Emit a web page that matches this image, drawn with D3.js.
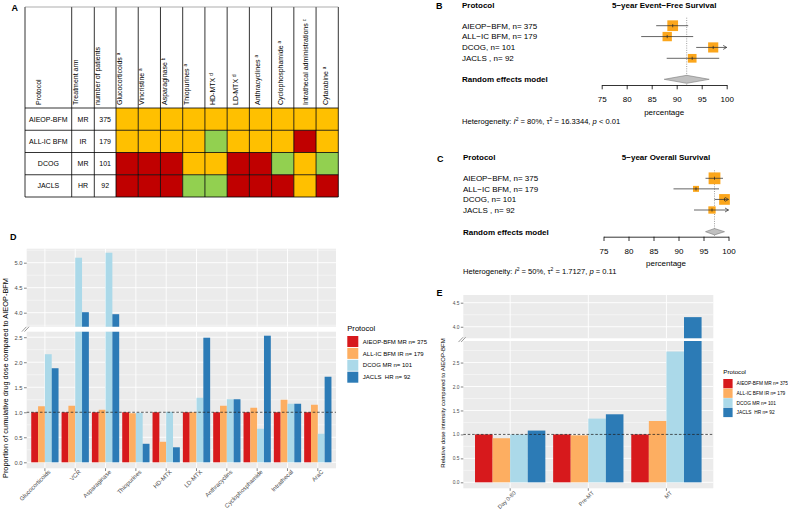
<!DOCTYPE html>
<html><head><meta charset="utf-8">
<script src="https://cdn.jsdelivr.net/npm/d3@7"></script>
<style>
body{margin:0;background:#fff}
svg{display:block}
text{font-family:"Liberation Sans",Arial,Helvetica,sans-serif;white-space:pre}
</style>
</head><body>
<svg id="c" width="788" height="509"></svg>
<script>
// ---------------- DATA ----------------
// Panel A table
const tableProtocols = ["AIEOP-BFM", "ALL-IC BFM", "DCOG", "JACLS"];
const tableArms = ["MR", "IR", "MR", "HR"];
const tablePatients = [375, 179, 101, 92];
const fixedHeaders = ["Protocol", "Treatment arm", "number of patients"];
const drugHeaders = ["Glucocorticoids", "Vincristine", "Asparaginase", "Thiopurines", "HD-MTX", "LD-MTX", "Anthracyclines", "Cyclophosphamide", "Intrathecal administrations", "Cytarabine"];
const drugSup = ["a", "a", "b", "a", "d", "d", "a", "a", "c", "a"];
// O = orange, R = red, G = green
const drugGrid = [
  ["O","O","O","O","O","O","O","O","O","O"],
  ["O","O","O","O","G","O","O","O","R","O"],
  ["R","R","R","O","O","R","R","G","O","G"],
  ["R","R","R","G","G","R","R","R","O","R"]
];

// Panels B & C forest plots
const forestStudies = ["AIEOP\u2212BFM, n= 375", "ALL\u2212IC BFM, n= 179", "DCOG, n= 101", "JACLS , n= 92"];
const forestTicks = [75, 80, 85, 90, 95, 100];
const efsEst = [89.2, 88.1, 97.3, 93.1];
const efsLo = [85.9, 82.9, 93.9, 88.0];
const efsHi = [92.3, 93.3, 100.8, 98.5];
const efsWeight = [29, 22, 26, 19];
const efsPooled = [92.0, 87.5, 96.5];
const osEst = [97.2, 93.5, 99.2, 96.7];
const osLo = [95.4, 89.0, 97.2, 93.1];
const osHi = [98.9, 98.1, 101.0, 101.0];
const osWeight = [35, 9, 29, 13.5];
const osPooled = [97.2, 95.4, 99.2];

// Panel D
const seriesNames = ["AIEOP-BFM MR n= 375", "ALL-IC BFM IR n= 179", "DCOG MR n= 101", "JACLS  HR n= 92"];
const dCategories = ["Glucocorticoids", "VCR", "Asparaginase", "Thiopurines", "HD-MTX", "LD-MTX", "Anthracyclins", "Cyclophosphamide", "Intrathecal", "AraC"];
const dAIEOP = [1, 1, 1, 1, 1, 1, 1, 1, 1, 1];
const dALLIC = [1.12, 1.13, 1.05, 0.98, 0.41, 1.00, 1.13, 1.09, 1.25, 1.15];
const dDCOG  = [2.16, 5.10, 5.20, 0.99, 1.01, 1.29, 1.26, 0.67, 1.17, 0.57];
const dJACLS = [1.88, 4.01, 3.97, 0.37, 0.30, 2.49, 1.26, 2.53, 1.17, 1.71];
const dLowerTicks = [0, 0.5, 1.0, 1.5, 2.0, 2.5];
const dUpperTicks = [4.0, 4.5, 5.0];

// Panel E
const eCategories = ["Day 0-80", "Pre-MT", "MT"];
const eAIEOP = [1, 1, 1];
const eALLIC = [0.92, 0.98, 1.28];
const eDCOG  = [1.00, 1.33, 2.73];
const eJACLS = [1.08, 1.42, 4.20];
const eLowerTicks = [0, 0.5, 1.0, 1.5, 2.0, 2.5];
const eUpperTicks = [4.0, 4.5];

// ---------------- DRAW ----------------
const svg = d3.select("#c");
svg.append("rect").attr("width", 788).attr("height", 509).attr("fill", "#fff");

function panelLabel(t, x, y) {
  svg.append("text").attr("x", x).attr("y", y).attr("font-size", 9).attr("font-weight", "bold").text(t);
}

// ===== Panel A =====
(function () {
  const g = svg.append("g");
  const fill = d3.scaleOrdinal().domain(["O", "R", "G"]).range(["#FFC000", "#C00000", "#92D050"]);
  const fixedLeft = d3.scaleOrdinal().domain(fixedHeaders).range([25, 71.7, 94.3]);
  const fixedRight = d3.scaleOrdinal().domain(fixedHeaders).range([71.7, 94.3, 116]);
  const xd = d3.scaleBand().domain(drugHeaders).range([116, 338.3]);
  const yr = d3.scaleBand().domain(tableProtocols).range([108, 197]);
  const top = 7;
  const fixedVals = [tableProtocols, tableArms, tablePatients];

  tableProtocols.forEach((p, ri) => {
    drugHeaders.forEach((d, ci) => {
      g.append("rect").attr("x", xd(d)).attr("y", yr(p)).attr("width", xd.bandwidth()).attr("height", yr.bandwidth())
        .attr("fill", fill(drugGrid[ri][ci]));
    });
    fixedHeaders.forEach((h, ci) => {
      g.append("text").attr("x", (fixedLeft(h) + fixedRight(h)) / 2).attr("y", yr(p) + yr.bandwidth() / 2)
        .attr("dy", "0.35em").attr("text-anchor", "middle").attr("font-size", 7).text(fixedVals[ci][ri]);
    });
  });
  const vEdges = fixedHeaders.map(h => fixedLeft(h)).concat(drugHeaders.map(d => xd(d)), [338.3]);
  vEdges.forEach(x => g.append("line").attr("x1", x).attr("x2", x).attr("y1", top).attr("y2", 197).attr("stroke", "#000").attr("stroke-width", 0.8));
  const hEdges = [top].concat(tableProtocols.map(p => yr(p)), [197]);
  hEdges.forEach((y, i) => g.append("line").attr("x1", 25).attr("x2", 338.3).attr("y1", y).attr("y2", y)
    .attr("stroke", i === 0 ? "#777" : "#000").attr("stroke-width", i === 0 ? 0.6 : 0.8));

  const fixedCenter = [38.5, 75.5, 97.6];
  fixedHeaders.forEach((h, i) => {
    g.append("text").attr("transform", `translate(${fixedCenter[i] + 2.4},105) rotate(-90)`)
      .attr("font-size", 7).text(h);
  });
  const drugOffset = [3.8, 3.8, 3.8, 3.8, 8, 8, 8.3, 8.8, 12, 10];
  drugHeaders.forEach((d, i) => {
    const t = g.append("text").attr("transform", `translate(${xd(d) + drugOffset[i] + 2.4},105) rotate(-90)`)
      .attr("font-size", 7);
    t.append("tspan").text(d + " ");
    t.append("tspan").attr("font-size", 4.5).attr("baseline-shift", "super").text(drugSup[i]);
  });
})();
panelLabel("A", 11.5, 10.5);

// ===== Panels B & C (forest plots) =====
function forest(cfg) {
  const g = svg.append("g");
  const x = d3.scaleLinear().domain([75, 100]).range([cfg.x0, cfg.x1]);
  const y = d3.scalePoint().domain(d3.range(forestStudies.length)).range([cfg.r0, cfg.r1]);
  const sz = d3.scaleSqrt().domain([0, 30]).range([0, 10.9]);
  const fs = 8;
  g.append("text").attr("x", cfg.left).attr("y", cfg.hy).attr("dy", "0.35em").attr("font-size", fs).attr("font-weight", "bold").text("Protocol");
  g.append("text").attr("x", (cfg.x0 + cfg.x1) / 2).attr("y", cfg.hy).attr("dy", "0.35em").attr("text-anchor", "middle")
    .attr("font-size", fs).attr("font-weight", "bold").text(cfg.title);
  g.append("line").attr("x1", x(cfg.pooled[0])).attr("x2", x(cfg.pooled[0])).attr("y1", cfg.r0 - 8).attr("y2", cfg.axisY)
    .attr("stroke", "#777").attr("stroke-width", 0.7).attr("stroke-dasharray", "1,1.3");
  forestStudies.forEach((s, i) => {
    const yy = y(i);
    g.append("text").attr("x", cfg.left).attr("y", yy).attr("dy", "0.35em").attr("font-size", fs).text(s);
    const hiC = Math.min(cfg.hi[i], 100);
    const side = sz(cfg.w[i]);
    g.append("rect").attr("x", x(cfg.est[i]) - side / 2).attr("y", yy - side / 2).attr("width", side).attr("height", side)
      .attr("fill", "#FBA61C");
    g.append("line").attr("x1", x(cfg.lo[i])).attr("x2", x(hiC)).attr("y1", yy).attr("y2", yy).attr("stroke", "#333").attr("stroke-width", 0.75);
    g.append("line").attr("x1", x(cfg.est[i])).attr("x2", x(cfg.est[i])).attr("y1", yy - 1.6).attr("y2", yy + 1.6).attr("stroke", "#222").attr("stroke-width", 0.7);
    if (cfg.hi[i] > 100) {
      const xe = x(100);
      g.append("path").attr("d", `M${xe - 3.5},${yy - 2}L${xe},${yy}L${xe - 3.5},${yy + 2}`).attr("fill", "none").attr("stroke", "#333").attr("stroke-width", 0.75);
    }
  });
  const dy0 = cfg.dy;
  g.append("path").attr("d", `M${x(cfg.pooled[1])},${dy0}L${x(cfg.pooled[0])},${dy0 - cfg.dh}L${x(cfg.pooled[2])},${dy0}L${x(cfg.pooled[0])},${dy0 + cfg.dh}Z`)
    .attr("fill", "#C0C0C0").attr("stroke", "#7a7a7a").attr("stroke-width", 0.6);
  g.append("text").attr("x", cfg.left).attr("y", dy0).attr("dy", "0.35em").attr("font-size", fs).attr("font-weight", "bold").text("Random effects model");
  const ax = g.append("g").attr("transform", `translate(0,${cfg.axisY})`)
    .call(d3.axisBottom(x).tickValues(forestTicks).tickSize(4.3).tickSizeOuter(0).tickPadding(7.5));
  ax.selectAll("text").attr("font-size", fs).attr("font-family", "Liberation Sans, Arial, sans-serif").attr("fill", "#000");
  ax.selectAll("line,path").attr("stroke", "#000").attr("stroke-width", 0.8);
  g.append("text").attr("x", (cfg.x0 + cfg.x1) / 2).attr("y", cfg.axisY + 26.7).attr("dy", "0.35em").attr("text-anchor", "middle").attr("font-size", fs).text("percentage");
  const t = g.append("text").attr("x", cfg.left).attr("y", cfg.hetY).attr("dy", "0.35em").attr("font-size", 7.6);
  t.append("tspan").text("Heterogeneity: ");
  t.append("tspan").attr("font-style", "italic").text("I");
  t.append("tspan").attr("font-size", 5).attr("dy", "-3").text("2");
  t.append("tspan").attr("dy", "3").text(` = ${cfg.i2}, \u03C4`);
  t.append("tspan").attr("font-size", 5).attr("dy", "-3").text("2");
  t.append("tspan").attr("dy", "3").text(` = ${cfg.tau2}, `);
  t.append("tspan").attr("font-style", "italic").text("p");
  t.append("tspan").text(` ${cfg.p}`);
}
forest({ left: 462, x0: 601.7, x1: 726.7, hy: 5, r0: 25.7, r1: 58.3, dy: 79.3, dh: 4, axisY: 85, hetY: 121.7,
  title: "5\u2212year Event\u2212Free Survival", est: efsEst, lo: efsLo, hi: efsHi, w: efsWeight, pooled: efsPooled,
  i2: "80%", tau2: "16.3344", p: "< 0.01" });
forest({ left: 463, x0: 603.5, x1: 728.5, hy: 156.7, r0: 178.3, r1: 210, dy: 231.7, dh: 3.2, axisY: 236.7, hetY: 271.7,
  title: "5\u2212year Overall Survival", est: osEst, lo: osLo, hi: osHi, w: osWeight, pooled: osPooled,
  i2: "50%", tau2: "1.7127", p: "= 0.11" });
panelLabel("B", 436, 9.3);
panelLabel("C", 437, 162);

// ===== Panels D & E (bar charts with axis break) =====
const seriesColors = d3.scaleOrdinal().domain(seriesNames).range(["#D7191C", "#FDAE61", "#ABD9E9", "#2C7BB6"]);

function barPanel(cfg) {
  const g = svg.append("g");
  const x0 = d3.scaleBand().domain(cfg.cats).range([cfg.left, cfg.right]).paddingInner(0.1).paddingOuter(0.15);
  const x1 = d3.scaleBand().domain(seriesNames).range([0, x0.bandwidth()]);
  [cfg.lower, cfg.upper].forEach((p, pi) => {
    const y = d3.scaleLinear().domain(p.dom).range(p.rng);
    const yTop = p.rng[1], yBot = p.rng[0];
    g.append("rect").attr("x", cfg.left).attr("y", yTop).attr("width", cfg.right - cfg.left).attr("height", yBot - yTop).attr("fill", "#EBEBEB");
    p.minor.forEach(v => g.append("line").attr("x1", cfg.left).attr("x2", cfg.right).attr("y1", y(v)).attr("y2", y(v)).attr("stroke", "#fff").attr("stroke-width", 0.45));
    p.ticks.forEach(v => g.append("line").attr("x1", cfg.left).attr("x2", cfg.right).attr("y1", y(v)).attr("y2", y(v)).attr("stroke", "#fff").attr("stroke-width", 0.9));
    cfg.cats.forEach(c => {
      const cx = x0(c) + x0.bandwidth() / 2;
      g.append("line").attr("x1", cx).attr("x2", cx).attr("y1", yTop).attr("y2", yBot).attr("stroke", "#fff").attr("stroke-width", 0.9);
    });
    const cid = cfg.id + "clip" + pi;
    g.append("clipPath").attr("id", cid).append("rect").attr("x", cfg.left).attr("y", yTop).attr("width", cfg.right - cfg.left).attr("height", yBot - yTop);
    const bars = g.append("g").attr("clip-path", `url(#${cid})`);
    cfg.series.forEach((vals, si) => {
      vals.forEach((v, ci) => {
        bars.append("rect").attr("x", x0(cfg.cats[ci]) + x1(seriesNames[si])).attr("width", x1.bandwidth())
          .attr("y", y(v)).attr("height", Math.max(0, y(Math.max(p.dom[0], 0)) - y(v) + (pi === 1 ? 5 : 0)))
          .attr("fill", seriesColors(seriesNames[si]));
      });
    });
    if (1 >= p.dom[0] && 1 <= p.dom[1]) {
      g.append("line").attr("x1", cfg.left).attr("x2", cfg.right).attr("y1", y(1)).attr("y2", y(1))
        .attr("stroke", "#222").attr("stroke-width", 0.75).attr("stroke-dasharray", "2.6,1.8");
    }
    const ax = g.append("g").attr("transform", `translate(${cfg.left},0)`)
      .call(d3.axisLeft(y).tickValues(p.ticks).tickSize(cfg.tickLen).tickPadding(1.5).tickFormat(d3.format(".1f")));
    ax.select(".domain").remove();
    ax.selectAll("line").attr("stroke", "#333").attr("stroke-width", 0.6);
    ax.selectAll("text").attr("font-size", cfg.tickFs).attr("fill", "#4D4D4D").attr("font-family", "Liberation Sans, Arial, sans-serif");
  });
  const yb = cfg.lower.rng[0];
  cfg.cats.forEach(c => {
    const cx = x0(c) + x0.bandwidth() / 2;
    g.append("line").attr("x1", cx).attr("x2", cx).attr("y1", yb).attr("y2", yb + cfg.tickLen).attr("stroke", "#333").attr("stroke-width", 0.6);
    g.append("text").attr("transform", `translate(${cx + cfg.lblDx},${yb + cfg.lblDy}) rotate(-45)`)
      .attr("text-anchor", "end").attr("font-size", cfg.xFs).attr("fill", "#4D4D4D").text(c);
  });
  const gy = (cfg.lower.rng[1] + cfg.upper.rng[0]) / 2;
  [-1.3, 1.3].forEach(o => g.append("line").attr("x1", cfg.left - 3.5 + o).attr("x2", cfg.left + 1 + o)
    .attr("y1", gy + 2.4).attr("y2", gy - 2.4).attr("stroke", "#555").attr("stroke-width", 0.6));
  g.append("text").attr("transform", `translate(${cfg.titleX},${cfg.titleY}) rotate(-90)`).attr("text-anchor", "middle")
    .attr("font-size", cfg.titleFs).text(cfg.ytitle);
  const L = cfg.legend;
  g.append("text").attr("x", L.x).attr("y", L.ty).attr("dy", "0.35em").attr("font-size", L.tfs).text("Protocol");
  seriesNames.forEach((s, i) => {
    const yy = L.ky + i * L.step;
    g.append("rect").attr("x", L.x).attr("y", yy).attr("width", L.key).attr("height", L.key).attr("fill", seriesColors(s));
    g.append("text").attr("x", L.x + L.key + L.gap).attr("y", yy + L.key / 2).attr("dy", "0.35em").attr("font-size", L.lfs).text(s);
  });
}

barPanel({
  id: "D", cats: dCategories, series: [dAIEOP, dALLIC, dDCOG, dJACLS], left: 26.7, right: 336,
  lower: { dom: [-0.12, 2.61], rng: [468.3, 331.7], ticks: dLowerTicks, minor: [0.25, 0.75, 1.25, 1.75, 2.25] },
  upper: { dom: [3.72, 5.28], rng: [326.7, 248.7], ticks: dUpperTicks, minor: [3.75, 4.25, 4.75, 5.25] },
  tickLen: 2.7, tickFs: 5.8, xFs: 6, lblDx: 6, lblDy: 4,
  ytitle: "Proportion of cumulative drug dose compared to AIEOP-BFM", titleX: 7.5, titleY: 378, titleFs: 7.4,
  legend: { x: 347.3, ty: 328.3, tfs: 7.6, ky: 336, step: 11.9, key: 11, gap: 4.5, lfs: 6 }
});
barPanel({
  id: "E", cats: eCategories, series: [eAIEOP, eALLIC, eDCOG, eJACLS], left: 463.3, right: 713.3,
  lower: { dom: [-0.125, 2.95], rng: [488.3, 341], ticks: eLowerTicks, minor: [0.25, 0.75, 1.25, 1.75, 2.25, 2.75] },
  upper: { dom: [3.76, 4.66], rng: [338.3, 295], ticks: eUpperTicks, minor: [4.25] },
  tickLen: 2.5, tickFs: 4.8, xFs: 5.6, lblDx: 6, lblDy: 5,
  ytitle: "Relative dose intensity compared to AIEOP-BFM", titleX: 445, titleY: 403, titleFs: 6,
  legend: { x: 723.3, ty: 372.3, tfs: 6.2, ky: 379, step: 9.6, key: 9.3, gap: 4, lfs: 4.8 }
});
panelLabel("D", 10, 240);
panelLabel("E", 436.5, 296);
</script>
</body></html>
